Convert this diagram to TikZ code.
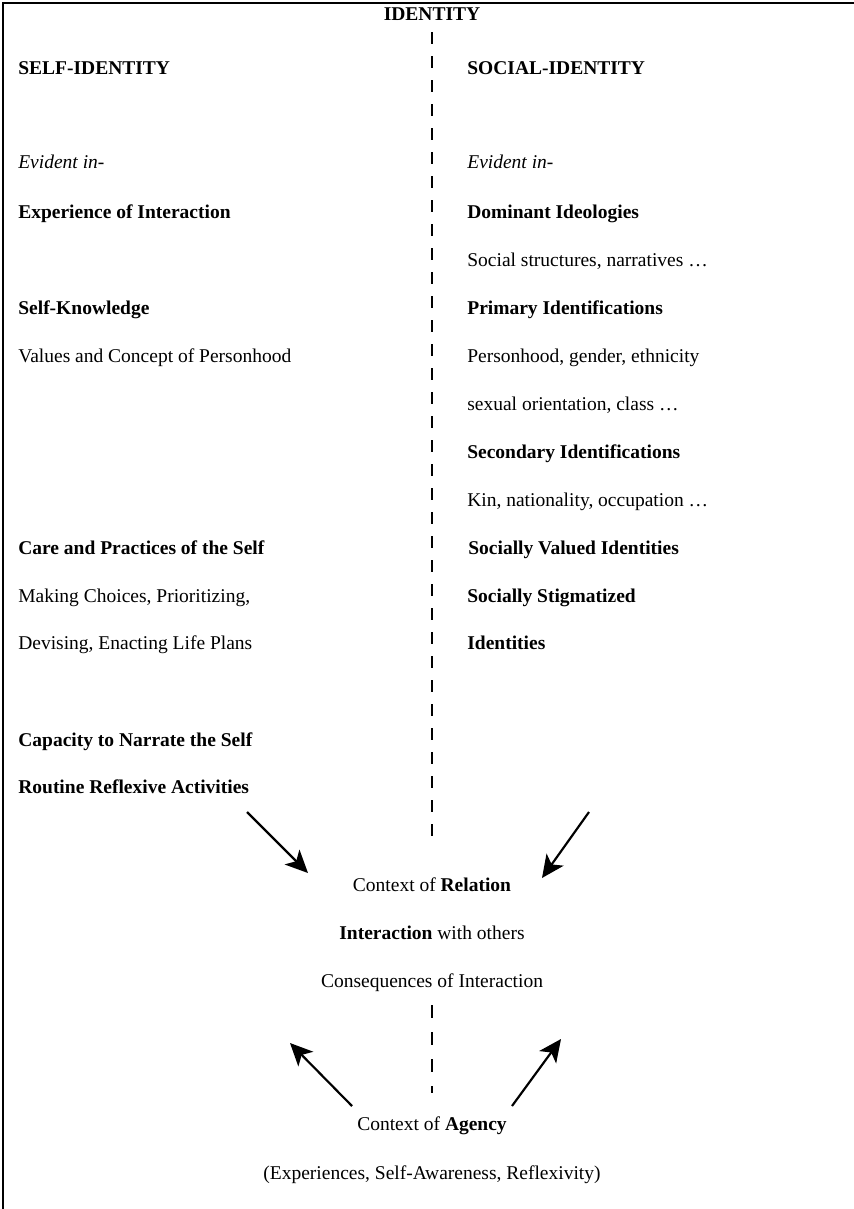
\documentclass[tikz,border=0pt]{standalone}
\usepackage{fontspec}
\setmainfont{Liberation Serif}
\usetikzlibrary{arrows.meta}
\begin{document}
\begin{tikzpicture}[x=0.6pt,y=-0.6pt,
    txt/.style={anchor=base west,inner sep=0pt,font=\fontsize{11.7}{14}\selectfont},
    mid/.style={anchor=base,inner sep=0pt,font=\fontsize{11.7}{14}\selectfont},
    divider/.style={line width=1.6pt,dash pattern=on 7.2pt off 7.2pt},
    arr/.style={line width=1.3pt,-{Stealth[length=13.5pt,width=12.5pt,inset=3.5pt]}}]
    \useasboundingbox (0,0) rectangle (854,1209);
    \draw[line width=0.9pt] (3,1209) -- (3,3) -- (854,3);
    % heading
    \node[mid] (identity) at (432,20) {\textbf{IDENTITY}};
    \draw[divider] (432,32) -- (432,845);
    % left column
    \node[txt] (self) at (18,74) {\textbf{SELF-IDENTITY}};
    \node[txt] (evl) at (18,168) {\textit{Evident in-}};
    \node[txt] (exper) at (18,218) {\textbf{Experience of Interaction}};
    \node[txt] (knowl) at (18,314) {\textbf{Self-Knowledge}};
    \node[txt] (values) at (18,362) {Values and Concept of Personhood};
    \node[txt] (care) at (18,554) {\textbf{Care and Practices of the Self}};
    \node[txt] (choices) at (18,602) {Making Choices, Prioritizing,};
    \node[txt] (devising) at (18,649) {Devising, Enacting Life Plans};
    \node[txt] (narrate) at (18,746) {\textbf{Capacity to Narrate the Self}};
    \node[txt] (routine) at (18,793) {\textbf{Routine Reflexive Activities}};
    % right column
    \node[txt] (social) at (467,74) {\textbf{SOCIAL-IDENTITY}};
    \node[txt] (evr) at (467,168) {\textit{Evident in-}};
    \node[txt] (domin) at (467,218) {\textbf{Dominant Ideologies}};
    \node[txt] (struct) at (467,266) {Social structures, narratives …};
    \node[txt] (prim) at (467,314) {\textbf{Primary Identifications}};
    \node[txt] (person) at (467,362) {Personhood, gender, ethnicity};
    \node[txt] (sexual) at (467,410) {sexual orientation, class …};
    \node[txt] (second) at (467,458) {\textbf{Secondary Identifications}};
    \node[txt] (kin) at (467,506) {Kin, nationality, occupation …};
    \node[txt] (valued) at (468,554) {\textbf{Socially Valued Identities}};
    \node[txt] (stigma) at (467,602) {\textbf{Socially Stigmatized}};
    \node[txt] (ident2) at (467,649) {\textbf{Identities}};
    % centre
    \node[mid] (relation) at (432,891) {Context of \textbf{Relation}};
    \node[mid] (interact) at (432,939) {\textbf{Interaction} with others};
    \node[mid] (conseq) at (432,987) {Consequences of Interaction};
    \draw[divider,dash pattern=on 7.8pt off 8.4pt] (432,1005) -- (432,1093);
    \node[mid] (agency) at (432,1130) {Context of \textbf{Agency}};
    \node[mid] (reflex) at (432,1179) {(Experiences, Self-Awareness, Reflexivity)};
    % arrows
    \coordinate (a1) at (247,812);
    \coordinate (b1) at (308,873);
    \coordinate (a2) at (589,812);
    \coordinate (b2) at (542,878);
    \coordinate (a3) at (352,1106);
    \coordinate (b3) at (290,1043);
    \coordinate (a4) at (512,1106);
    \coordinate (b4) at (561,1039);
    \draw[arr] (a1) -- (b1);
    \draw[arr] (a2) -- (b2);
    \draw[arr] (a3) -- (b3);
    \draw[arr] (a4) -- (b4);
\end{tikzpicture}
\end{document}
